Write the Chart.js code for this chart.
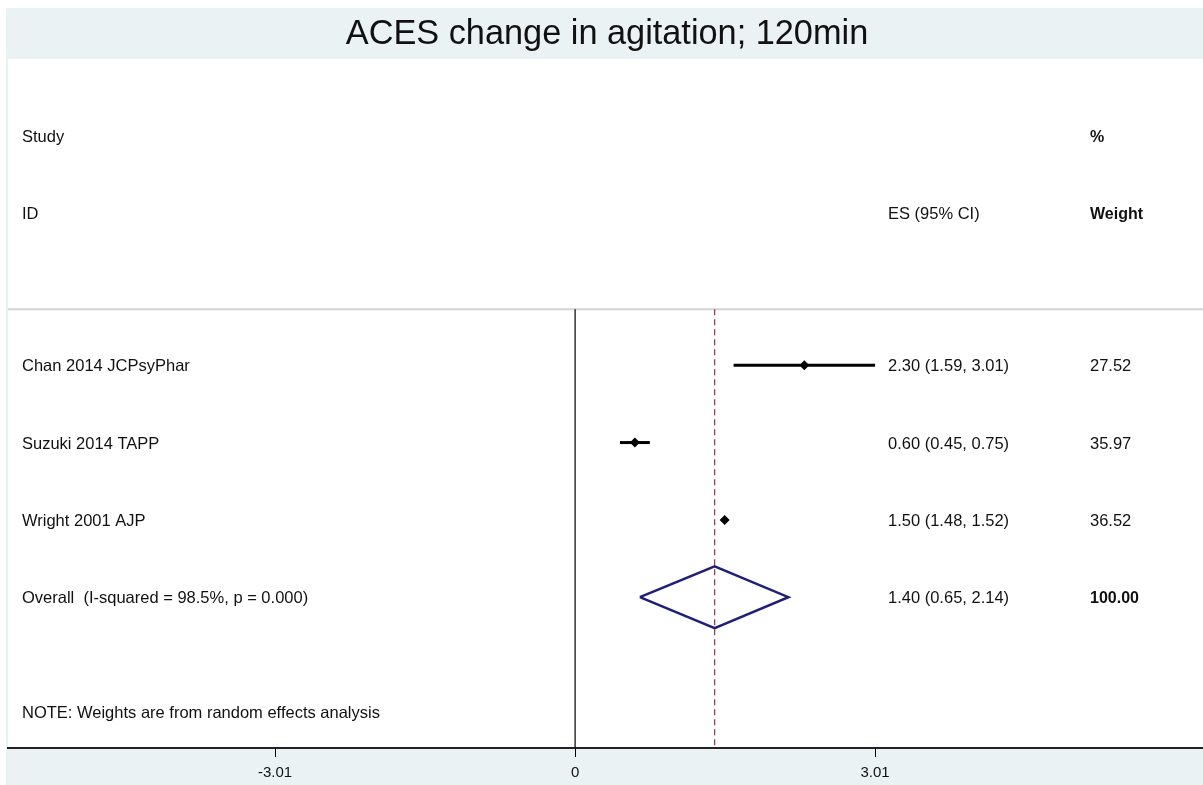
<!DOCTYPE html>
<html>
<head>
<meta charset="utf-8">
<script src="https://cdn.jsdelivr.net/npm/chart.js@4.4.1/dist/chart.umd.min.js"></script>
<style>
  html, body { margin: 0; padding: 0; background: #ffffff; overflow: hidden; }
  #forest { display: block; }
</style>
</head>
<body>
<canvas id="forest" width="1203" height="785"></canvas>
<script>
// Datos del forest plot
const studies = ['Chan 2014 JCPsyPhar', 'Suzuki 2014 TAPP', 'Wright 2001 AJP'];
const es = [2.30, 0.60, 1.50];
const ciLow = [1.59, 0.45, 1.48];
const ciHigh = [3.01, 0.75, 1.52];
const weights = ['27.52', '35.97', '36.52'];

const overallLabel = ['Overall  (I-squared = 98.5%, p = 0.000)'];
const overallEs = [1.40];
const overallLow = [0.65];
const overallHigh = [2.14];
const overallWeight = ['100.00'];

const xTicks = [-3.01, 0, 3.01];

const titleText = 'ACES change in agitation; 120min';
const noteText = 'NOTE: Weights are from random effects analysis';

// filas (eje y invertido)
const headerRow1 = -1.96;
const headerRow2 = -0.97;
const sepRow = 0.276;
const noteRow = 5.49;
const overallRow = studies.length + 1;
const yMin = -2.96, yMax = 5.95;
const xMin = -5.69, xMax = 6.30;

const FONT = '"Liberation Sans", Arial, sans-serif';
const BAND = '#eaf2f3';

function fmt(v) { return v.toFixed(2); }

// Fondo y título
const backgroundPlugin = {
    id: 'background',
    beforeDraw(chart) {
        const ctx = chart.ctx;
        const a = chart.chartArea;
        ctx.save();
        ctx.fillStyle = '#ffffff';
        ctx.fillRect(0, 0, chart.width, chart.height);
        ctx.fillStyle = BAND;
        ctx.fillRect(6, 8, chart.width - 6, chart.height - 8);
        ctx.fillStyle = '#ffffff';
        ctx.fillRect(a.left, a.top, a.right - a.left, a.bottom - a.top);
        ctx.fillStyle = '#111111';
        ctx.font = '34.3px ' + FONT;
        ctx.textAlign = 'center';
        ctx.textBaseline = 'middle';
        ctx.fillText(titleText, 607, 35);
        ctx.restore();
    }
};

// Columnas de texto
const textPlugin = {
    id: 'columns',
    afterDatasetsDraw(chart) {
        const ctx = chart.ctx;
        const y = chart.scales.y;
        const row = function(v) { return y.getPixelForValue(v) + 1.5; };
        const left = chart.chartArea.left;
        const colLabel = left + 14;
        const colEs = left + 880;
        const colW = left + 1082;
        ctx.save();
        ctx.fillStyle = '#111111';
        ctx.textBaseline = 'middle';
        ctx.textAlign = 'left';
        const normal = '16.5px ' + FONT;
        const bold = 'bold 16px ' + FONT;

        ctx.font = normal;
        ctx.fillText('Study', colLabel, row(headerRow1));
        ctx.fillText('ID', colLabel, row(headerRow2));
        ctx.fillText('ES (95% CI)', colEs, row(headerRow2));
        ctx.font = bold;
        ctx.fillText('%', colW, row(headerRow1));
        ctx.fillText('Weight', colW, row(headerRow2));

        studies.forEach(function(s, i) {
            const py = row(i + 1);
            ctx.font = normal;
            ctx.fillText(s, colLabel, py);
            ctx.fillText(fmt(es[i]) + ' (' + fmt(ciLow[i]) + ', ' + fmt(ciHigh[i]) + ')', colEs, py);
            ctx.fillText(weights[i], colW, py);
        });

        const po = row(overallRow);
        ctx.font = normal;
        ctx.fillText(overallLabel[0], colLabel, po);
        ctx.fillText(fmt(overallEs[0]) + ' (' + fmt(overallLow[0]) + ', ' + fmt(overallHigh[0]) + ')', colEs, po);
        ctx.font = bold;
        ctx.fillText(overallWeight[0], colW, po);

        ctx.font = normal;
        ctx.fillText(noteText, colLabel, row(noteRow));
        ctx.restore();
    }
};

const datasets = [];

// separador bajo la cabecera
datasets.push({
    data: [{ x: xMin, y: sepRow }, { x: xMax, y: sepRow }],
    showLine: true, borderColor: '#d4d4d4', borderWidth: 2, pointRadius: 0, order: 10
});

// línea del no efecto
datasets.push({
    data: [{ x: 0, y: sepRow }, { x: 0, y: yMax }],
    showLine: true, borderColor: '#000000', borderWidth: 1.2, pointRadius: 0, order: 9
});

// línea del efecto global
datasets.push({
    data: [{ x: overallEs[0], y: sepRow }, { x: overallEs[0], y: yMax }],
    showLine: true, borderColor: '#8e4458', borderWidth: 1.3, borderDash: [6, 4],
    pointRadius: 0, order: 8
});

// intervalos de confianza
studies.forEach(function(s, i) {
    datasets.push({
        data: [{ x: ciLow[i], y: i + 1 }, { x: ciHigh[i], y: i + 1 }],
        showLine: true, borderColor: '#000000', borderWidth: 3, pointRadius: 0, order: 5
    });
});

// estimaciones puntuales
datasets.push({
    data: es.map(function(v, i) { return { x: v, y: i + 1 }; }),
    pointStyle: 'rectRot', pointRadius: 5, backgroundColor: '#000000',
    borderColor: '#000000', borderWidth: 0, order: 1
});

// rombo global
datasets.push({
    data: [
        { x: overallLow[0], y: overallRow },
        { x: overallEs[0], y: overallRow - 0.4 },
        { x: overallHigh[0], y: overallRow },
        { x: overallEs[0], y: overallRow + 0.4 },
        { x: overallLow[0], y: overallRow }
    ],
    showLine: true, borderColor: '#1f1f78', borderWidth: 2.5, pointRadius: 0,
    tension: 0, order: 2
});

new Chart(document.getElementById('forest'), {
    type: 'scatter',
    data: { datasets: datasets },
    options: {
        responsive: false,
        animation: false,
        devicePixelRatio: 1,
        layout: { autoPadding: false, padding: { top: 59, left: 8, right: 0, bottom: 0 } },
        plugins: {
            legend: { display: false },
            tooltip: { enabled: false },
            title: { display: false }
        },
        scales: {
            x: {
                type: 'linear',
                min: xMin,
                max: xMax,
                afterBuildTicks: function(scale) {
                    scale.ticks = xTicks.map(function(v) { return { value: v }; });
                },
                afterFit: function(scale) { scale.height = 37; },
                ticks: {
                    font: { family: FONT, size: 15 },
                    color: '#111111',
                    padding: 7,
                    maxRotation: 0,
                    callback: function(v) { return String(v); }
                },
                grid: {
                    display: true,
                    drawOnChartArea: false,
                    drawTicks: true,
                    tickLength: 9,
                    color: '#000000',
                    lineWidth: 1
                },
                border: { display: true, color: '#222222', width: 2 }
            },
            y: {
                type: 'linear',
                reverse: true,
                min: yMin,
                max: yMax,
                display: false
            }
        }
    },
    plugins: [backgroundPlugin, textPlugin]
});
</script>
</body>
</html>
